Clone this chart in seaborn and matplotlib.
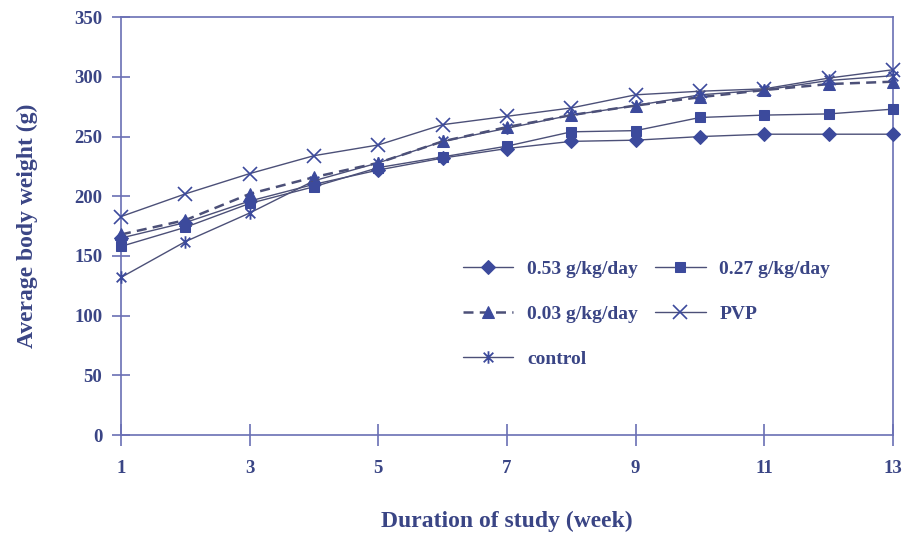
import matplotlib
matplotlib.use("Agg")
import matplotlib.pyplot as plt
from matplotlib.path import Path
import pandas as pd
import seaborn as sns

weeks = list(range(1, 14))
dose_053 = [165, 178, 196, 210, 222, 232, 240, 246, 247, 250, 252, 252, 252]
dose_027 = [158, 174, 194, 208, 224, 233, 242, 254, 255, 266, 268, 269, 273]
dose_003 = [168, 180, 202, 216, 228, 246, 258, 268, 276, 283, 289, 294, 296]
pvp = [183, 202, 219, 234, 243, 260, 267, 274, 285, 288, 290, 299, 306]
control = [132, 162, 186, 213, 228, 246, 257, 268, 276, 285, 289, 297, 301]

x_ticks = [1, 3, 5, 7, 9, 11, 13]
y_ticks = [0, 50, 100, 150, 200, 250, 300, 350]

sns.set_style("white")
plt.rcParams["font.family"] = ["Liberation Serif", "DejaVu Serif"]

blue = "#3c4a9c"
line_col = "#4c5078"
axis_col = "#6a70b4"
text_col = "#3a4585"

# asterisk marker: x with a vertical bar
star = Path([(-1, -1), (1, 1), (-1, 1), (1, -1), (0, -1.3), (0, 1.3)],
            [Path.MOVETO, Path.LINETO, Path.MOVETO, Path.LINETO, Path.MOVETO, Path.LINETO])

series = [
    ("0.53 g/kg/day", dose_053, dict(marker="D", markersize=7.5, linestyle="-", linewidth=1.0)),
    ("0.03 g/kg/day", dose_003, dict(marker="^", markersize=8, linestyle=(0, (4, 2.5)), linewidth=1.8)),
    ("control", control, dict(marker=star, markersize=9, linestyle="-", linewidth=1.0,
                               markerfacecolor="none", markeredgewidth=1.3)),
    ("0.27 g/kg/day", dose_027, dict(marker="s", markersize=7, linestyle="-", linewidth=1.0)),
    ("PVP", pvp, dict(marker="x", markersize=10, linestyle="-", linewidth=1.0, markeredgewidth=1.2)),
]

fig = plt.figure(figsize=(9.13, 5.38), dpi=100)
ax = fig.add_axes([0.1325, 0.1914, 0.9781 - 0.1325, 0.968 - 0.1914])

for name, vals, kw in series:
    df = pd.DataFrame({"week": weeks, "weight": vals})
    kw = dict(kw)
    sns.lineplot(data=df, x="week", y="weight", ax=ax, label=name, color=line_col,
                 markerfacecolor=kw.pop("markerfacecolor", blue), markeredgecolor=blue,
                 clip_on=False, zorder=3, **kw)

ax.set_xlim(1, 13)
ax.set_ylim(0, 350)
ax.set_xticks(x_ticks)
ax.set_yticks(y_ticks)
for s in ax.spines.values():
    s.set_color(axis_col)
    s.set_linewidth(1.2)
ax.tick_params(axis="x", bottom=True, direction="inout", length=16, width=1.2, color=axis_col,
               labelsize=13.5, labelcolor=text_col, pad=10)
ax.tick_params(axis="y", left=True, direction="inout", length=13, width=1.2, color=axis_col,
               labelsize=13.5, labelcolor=text_col, pad=7)
for lab in ax.get_xticklabels() + ax.get_yticklabels():
    lab.set_fontweight("bold")
ax.set_xlabel("Duration of study (week)", fontsize=17, fontweight="bold", color=text_col, labelpad=24)
ax.set_ylabel("Average body weight (g)", fontsize=17, fontweight="bold", color=text_col, labelpad=26)

leg = ax.legend(ncol=2, loc="upper left", bbox_to_anchor=(0.42, 0.46), frameon=False,
                handlelength=2.6, columnspacing=0.9, labelspacing=1.4, handletextpad=0.7,
                prop={"size": 14, "weight": "bold"})
for t in leg.get_texts():
    t.set_color(text_col)

fig.savefig("out.png", dpi=100)
